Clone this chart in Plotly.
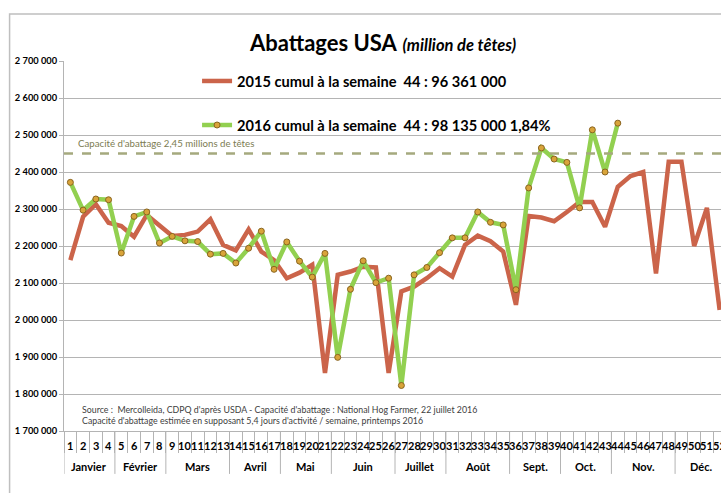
import plotly.graph_objects as go

weeks = list(range(1, 53))
week_labels = [str(w) for w in weeks]
months = ["Janvier", "Février", "Mars", "Avril", "Mai", "Juin", "Juillet",
          "Août", "Sept.", "Oct.", "Nov.", "Déc."]
weeks_per_month = [4, 4, 5, 4, 4, 5, 4, 5, 4, 4, 5, 4]

abattages_2015 = [2162000, 2279000, 2313000, 2263000, 2254000, 2225000, 2284000,
                  2257000, 2227000, 2230000, 2239000, 2272000, 2203000, 2188000,
                  2245000, 2185000, 2162000, 2113000, 2128000, 2149000, 1857000,
                  2122000, 2131000, 2144000, 2142000, 1857000, 2077000, 2090000,
                  2113000, 2140000, 2117000, 2203000, 2228000, 2213000, 2185000,
                  2041000, 2281000, 2277000, 2267000, 2292000, 2319000, 2319000,
                  2252000, 2360000, 2389000, 2400000, 2126000, 2428000, 2428000,
                  2200000, 2303000, 2027000]
abattages_2016 = [2372000, 2297000, 2327000, 2325000, 2181000, 2280000, 2292000,
                  2208000, 2226000, 2214000, 2212000, 2178000, 2180000, 2154000,
                  2194000, 2240000, 2137000, 2211000, 2159000, 2116000, 2180000,
                  1899000, 2083000, 2160000, 2101000, 2113000, 1823000, 2122000,
                  2142000, 2182000, 2222000, 2222000, 2292000, 2264000, 2257000,
                  2082000, 2357000, 2465000, 2435000, 2426000, 2303000, 2514000,
                  2400000, 2532000]
capacite = 2450000

y_ticks = [1700000, 1800000, 1900000, 2000000, 2100000, 2200000, 2300000,
           2400000, 2500000, 2600000, 2700000]
y_ticktext = ["{:,}".format(v).replace(",", " ") for v in y_ticks]

name_2015 = "2015 cumul à la semaine \u00a044 : 96 361 000"
name_2016 = "2016 cumul à la semaine \u00a044 : 98 135 000 1,84%"

FONT = "Lato, 'Open Sans', sans-serif"
GRID = "#B4B4B4"

fig = go.Figure()
fig.add_trace(go.Scatter(
    x=weeks, y=abattages_2015, mode="lines", name=name_2015,
    line=dict(color="#CB644A", width=4.5), legend="legend"))
fig.add_trace(go.Scatter(
    x=weeks[:len(abattages_2016)], y=abattages_2016, mode="lines+markers",
    name=name_2016, line=dict(color="#92D050", width=4.5),
    marker=dict(color="#D9A43A", size=6, line=dict(color="#8A6420", width=1)),
    legend="legend2"))

# capacity line
fig.add_shape(type="line", xref="paper", x0=0, x1=1, yref="y",
              y0=capacite, y1=capacite,
              line=dict(color="#A5A97E", width=2.5, dash="dash"))

annotations = []
# week labels
for w, t in zip(weeks, week_labels):
    annotations.append(dict(x=w, y=-0.0405, xref="x", yref="paper", text="<b>%s</b>" % t,
                            showarrow=False, font=dict(size=11, color="#000", family=FONT),
                            xanchor="center", yanchor="middle"))
# month labels and separators
start = 1
shapes = []
for m, n in zip(months, weeks_per_month):
    center = start + (n - 1) / 2
    annotations.append(dict(x=center, y=-0.0946, xref="x", yref="paper", text="<b>%s</b>" % m,
                            showarrow=False, font=dict(size=11, color="#000", family=FONT),
                            xanchor="center", yanchor="middle"))
    shapes.append(dict(type="line", xref="x", yref="paper", x0=start - 0.5, x1=start - 0.5,
                       y0=0, y1=-0.116, line=dict(color=GRID, width=1)))
    start += n
for s in shapes:
    fig.add_shape(**s)

annotations.append(dict(x=0.018, y=0.778, xref="paper", yref="paper",
                        text="Capacité d'abattage 2,45 millions de têtes", showarrow=False,
                        font=dict(size=9.7, color="#7C7C52", family=FONT),
                        xanchor="left", yanchor="middle"))
annotations.append(dict(x=0.024, y=0.078, xref="paper", yref="paper",
                        text="Source :  Mercolleida, CDPQ d'après USDA - Capacité d'abattage : National Hog Farmer, 22 juillet 2016<br>"
                             "Capacité d'abattage estimée en supposant 5,4 jours d'activité / semaine, printemps 2016",
                        showarrow=False, align="left",
                        font=dict(size=8.8, color="#404040", family=FONT),
                        xanchor="left", yanchor="top"))

# outer frame
fig.add_shape(type="rect", xref="paper", yref="paper", x0=-0.0822, x1=1.2, y0=-0.3, y1=1.127,
              line=dict(color="#BFBFBF", width=1.5), fillcolor="rgba(0,0,0,0)", layer="below")

W, H = 726, 493
fig.update_layout(
    width=W, height=H,
    margin=dict(l=64, r=0, t=61, b=62),
    paper_bgcolor="white", plot_bgcolor="white",
    font=dict(family=FONT, color="#000"),
    title=dict(text="<b>Abattages USA</b> <span style='font-size:16.5px'><b><i>(million de têtes)</i></b></span>",
               x=383 / W, xanchor="center", xref="container",
               y=1 - 43 / H, yanchor="middle", yref="container",
               font=dict(size=22, color="#000", family=FONT)),
    xaxis=dict(range=[0.5, 52.5], tickvals=[w - 0.5 for w in weeks], showticklabels=False,
               ticks="outside", ticklen=21, tickcolor=GRID, showgrid=False, automargin=False,
               showline=True, linecolor=GRID, zeroline=False, fixedrange=True),
    yaxis=dict(range=[1700000, 2700000], tickvals=y_ticks, ticktext=y_ticktext,
               tickfont=dict(size=9.3, color="#000", family=FONT, weight="bold"),
               ticks="outside", ticklen=4, tickcolor=GRID, gridcolor=GRID, gridwidth=1,
               showline=True, linecolor=GRID, zeroline=False, automargin=False),
    legend=dict(x=0.201, y=0.946, xanchor="left", yanchor="middle", xref="paper", yref="paper",
                bgcolor="rgba(0,0,0,0)", font=dict(size=14.6, color="#000", family=FONT, weight="bold")),
    legend2=dict(x=0.201, y=0.827, xanchor="left", yanchor="middle", xref="paper", yref="paper",
                 bgcolor="rgba(0,0,0,0)", font=dict(size=14.6, color="#000", family=FONT, weight="bold")),
    annotations=annotations,
    showlegend=True,
)

fig.write_html("out.html", config={"displayModeBar": False},
               post_script="document.body.style.margin='0';document.body.style.overflow='hidden';"
                           "document.documentElement.style.overflow='hidden';")
